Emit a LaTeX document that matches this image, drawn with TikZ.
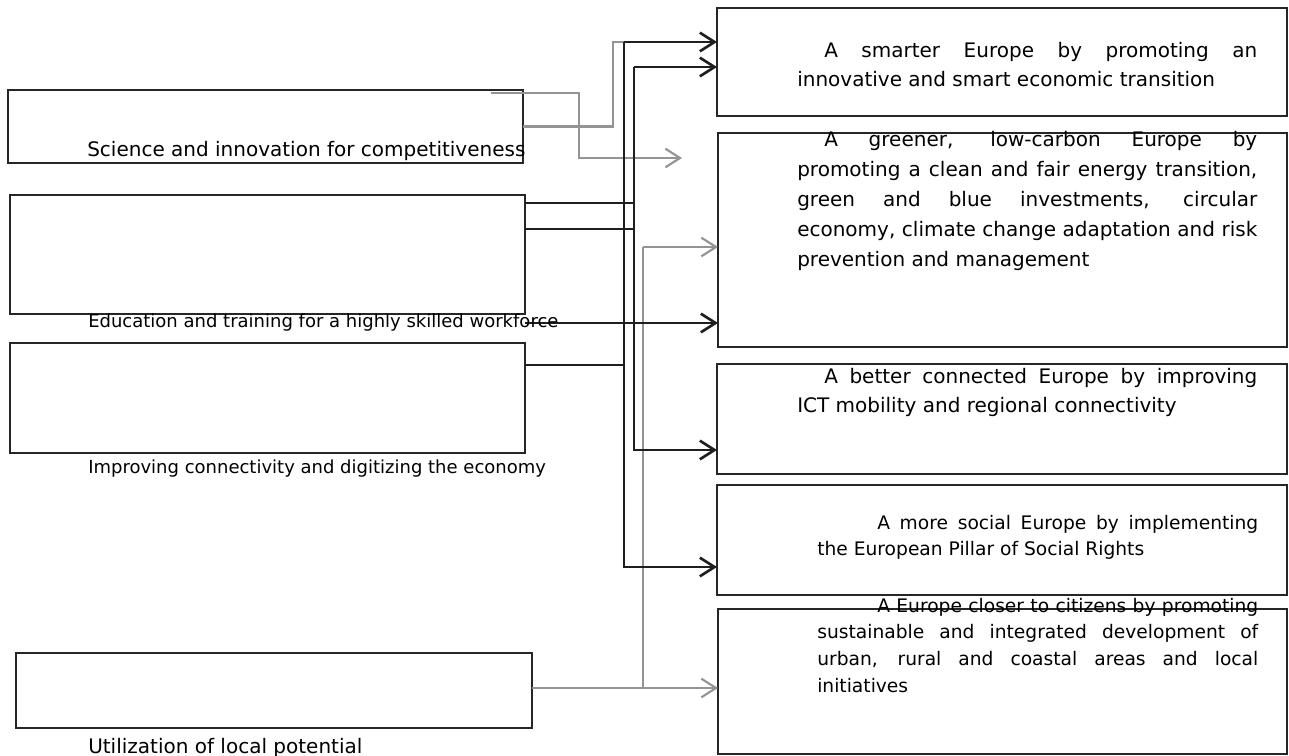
\documentclass[tikz,border=0pt]{standalone}
\usepackage{fontspec}
\setmainfont{DejaVu Sans}
\usetikzlibrary{arrows.meta}
\hyphenpenalty=10000
\exhyphenpenalty=10000
\tolerance=10000

\begin{document}
\begin{tikzpicture}[x=0.75pt,y=0.75pt,yscale=-1,
	goalbox/.style={draw=black!85, line width=1pt, inner sep=0pt, outer sep=0pt},
	aimtxt/.style={inner sep=0pt, anchor=base west},
	goaltxt/.style={inner sep=0pt, anchor=base west, align=justify, text width=345pt},
	darkln/.style={draw=black!88, line width=2pt},
	grayln/.style={draw=black!42, line width=1.6pt},
	arr/.style={-{Straight Barb[length=11pt,width=14pt]}}]
	\useasboundingbox (0,0) rectangle (1289,756);
	% priority boxes (left)
	\node[goalbox, minimum width=386.25pt, minimum height=54.75pt] (sci) at (265.5,126.5) {};
	\node[goalbox, minimum width=386.25pt, minimum height=89.25pt] (edu) at (267.5,254.5) {};
	\node[goalbox, minimum width=386.25pt, minimum height=82.5pt] (dig) at (267.5,398) {};
	\node[goalbox, minimum width=387pt, minimum height=56.25pt] (loc) at (274,690.5) {};
	% policy objective boxes (right)
	\node[goalbox, minimum width=427.5pt, minimum height=81pt] (smart) at (1002,62) {};
	\node[goalbox, minimum width=426.75pt, minimum height=160.5pt] (green) at (1002.5,240) {};
	\node[goalbox, minimum width=427.5pt, minimum height=82.5pt] (conn) at (1002,419) {};
	\node[goalbox, minimum width=427.5pt, minimum height=82.5pt] (social) at (1002,540) {};
	\node[goalbox, minimum width=426.75pt, minimum height=108.75pt] (citizen) at (1002.5,681.5) {};
	% bus lines
	\coordinate (busA) at (624,42);
	\coordinate (busAend) at (624,567);
	\coordinate (busB) at (634,67);
	\coordinate (busBend) at (634,450);
	\coordinate (busG) at (643,247);
	\coordinate (busGend) at (643,688);
	\draw[grayln] (sci.east) -- ++(90,0) |- (busA);
	\draw[grayln, arr] (sci.north east) ++(-32,3) -- ++(88,0) |- ++(103,65);
	\draw[grayln] (busG) -- (busGend);
	\draw[grayln, arr] (busG) -- (green.west |- busG);
	\draw[grayln, arr] (loc.east |- busGend) -- (citizen.west |- busGend);
	\draw[darkln, arr] (busA) -- (smart.west |- busA);
	\draw[darkln, arr] (busA) |- (social.west |- busAend);
	\draw[darkln] (dig.east |- 0,365) -- (busA |- 0,365);
	\draw[darkln, arr] (busB) -- (smart.west |- busB);
	\draw[darkln, arr] (busB) |- (conn.west |- busBend);
	\draw[darkln] (edu.east |- 0,203) -- (busB |- 0,203);
	\draw[darkln] (edu.east |- 0,229) -- (busB |- 0,229);
	\draw[darkln, arr] (edu.east |- 0,323) -- (green.west |- 0,323);
	% texts
	\node[aimtxt, font=\fontsize{15}{18}\selectfont] (scitxt) at (87,157) {Science and innovation for competitiveness};
	\node[aimtxt, font=\fontsize{13.5}{16}\selectfont] (edutxt) at (88,327) {Education and training for a highly skilled workforce};
	\node[aimtxt, font=\fontsize{13.5}{16}\selectfont] (digtxt) at (88,473) {Improving connectivity and digitizing the economy};
	\node[aimtxt, font=\fontsize{15}{18}\selectfont] (loctxt) at (88,753) {Utilization of local potential};
	\node[goaltxt, font=\fontsize{15}{21.75}\selectfont] (smarttxt) at (797,58) {\hspace*{20.25pt}A smarter Europe by promoting an\linebreak innovative and smart economic transition};
	\node[goaltxt, font=\fontsize{15}{22.5}\selectfont] (greentxt) at (797,147) {\hspace*{20.25pt}A greener, low-carbon Europe by\linebreak promoting a clean and fair energy transition,\linebreak green and blue investments, circular\linebreak economy, climate change adaptation and risk\linebreak prevention and management};
	\node[goaltxt, font=\fontsize{15}{21.75}\selectfont] (conntxt) at (797,383) {\hspace*{20.25pt}A better connected Europe by improving\linebreak ICT mobility and regional connectivity};
	\node[goaltxt, text width=330.75pt, font=\fontsize{14}{19.5}\selectfont] (socialtxt) at (817,529) {\hspace*{45pt}A more social Europe by implementing\linebreak the European Pillar of Social Rights};
	\node[goaltxt, text width=330.75pt, font=\fontsize{14}{20}\selectfont] (citizentxt) at (817,612) {\hspace*{45pt}A Europe closer to citizens by promoting\linebreak sustainable and integrated development of\linebreak urban, rural and coastal areas and local\linebreak initiatives};
\end{tikzpicture}
\end{document}
